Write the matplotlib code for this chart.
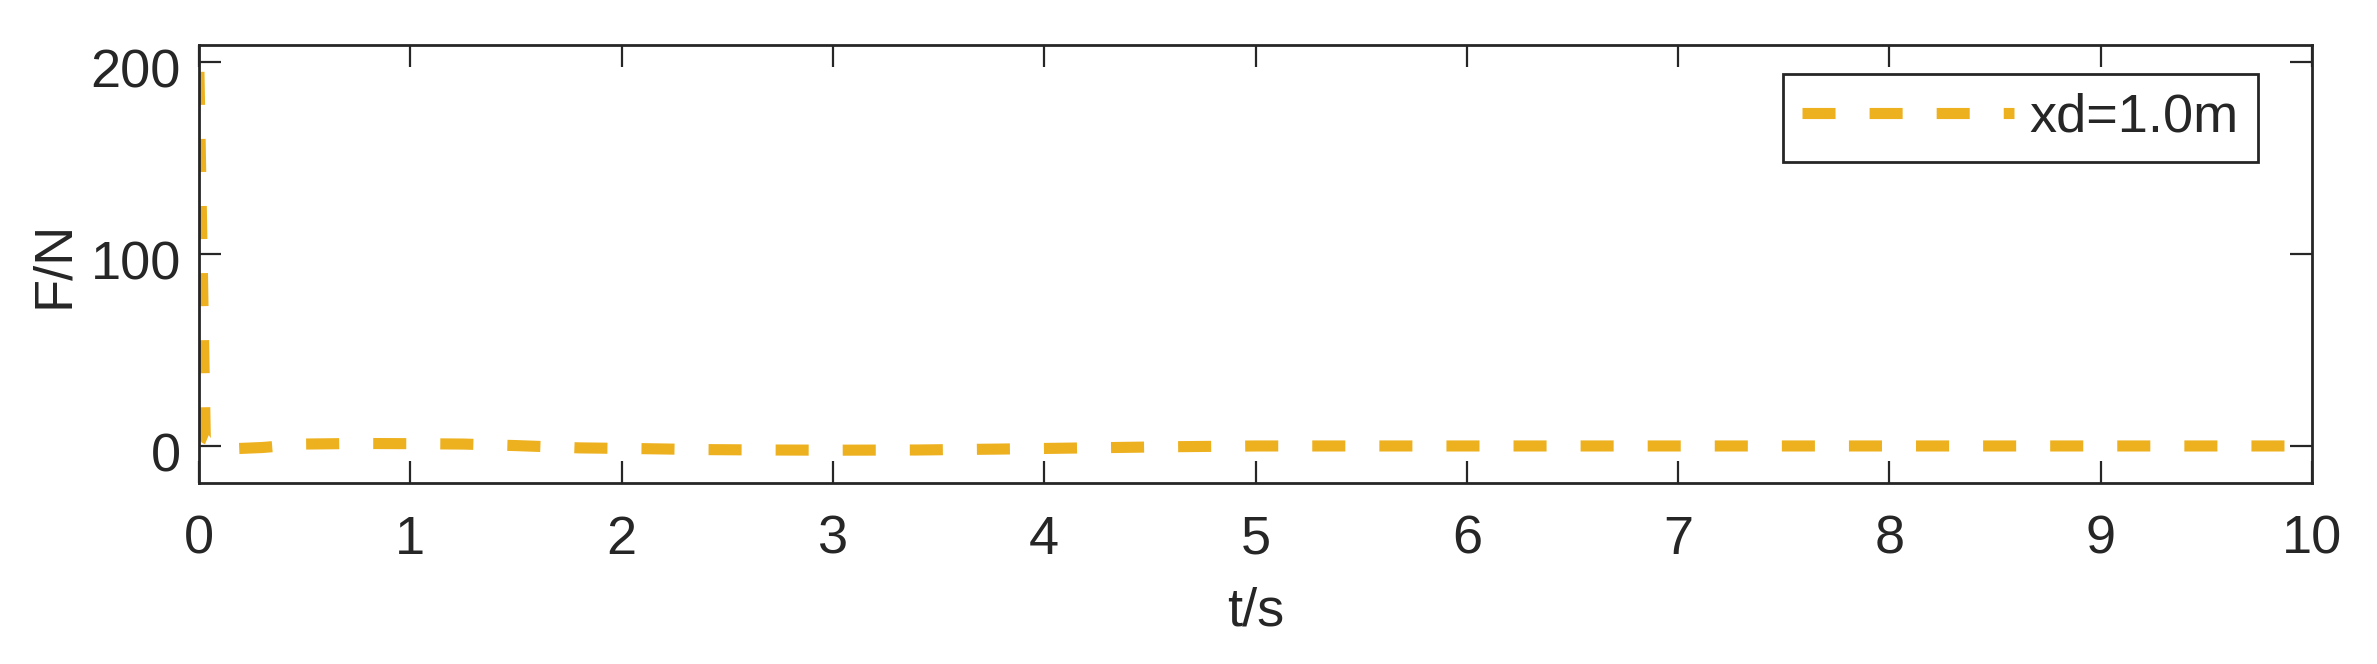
import matplotlib
matplotlib.use('Agg')  # no display
import matplotlib.pyplot as plt
import matplotlib.transforms as mtransforms

# force response
t_s = [0, 0.03, 0.15, 0.3, 0.5, 0.75, 1.0, 1.25, 1.5, 1.8, 2.1, 2.4, 2.7, 3.0, 3.4, 3.8, 4.2, 4.6, 5.0, 6.0, 7.0, 8.0, 9.0, 10.0]
force_n = [195, 4, -1.5, -0.8, 1.0, 1.3, 1.2, 1.0, 0.2, -1.0, -1.4, -1.9, -2.1, -2.2, -2.1, -1.6, -1.0, -0.4, 0, 0, 0, 0, 0, 0]
series_label = 'xd=1.0m'
x_ticks = list(range(0, 11))
y_ticks = [0, 100, 200]

plt.rcParams['font.family'] = ['Liberation Sans', 'DejaVu Sans']
plt.rcParams['font.size'] = 39
text_color = '#262626'

fig = plt.figure(figsize=(23.77, 6.64), dpi=100)
ax = fig.add_axes([0.0837, 0.2726, 0.889, 0.6596])

lw = 8.0
line, = ax.plot(t_s, force_n, color='#EDB120', linewidth=lw, label=series_label,
                solid_capstyle='butt', dash_capstyle='butt')
line.set_dashes([23.8 / lw, 24.5 / lw])

ax.set_xlim(0, 10)
ax.set_ylim(-19.3, 209)
ax.set_xticks(x_ticks)
ax.set_yticks(y_ticks)

for side in ax.spines.values():
    side.set_linewidth(2.0)
    side.set_color(text_color)
ax.tick_params(direction='in', length=16, width=1.6, colors=text_color,
               top=True, right=True, labelsize=39)
ax.tick_params(axis='x', pad=23)
ax.tick_params(axis='y', pad=13)

# MATLAB places y tick labels slightly below the tick
offset = mtransforms.ScaledTranslation(0, -6 / 100, fig.dpi_scale_trans)
for lbl in ax.get_yticklabels():
    lbl.set_transform(lbl.get_transform() + offset)

ax.set_xlabel('t/s', color=text_color)
ax.set_ylabel('F/N', color=text_color)
ax.xaxis.set_label_coords(0.5, -0.237)
ax.yaxis.set_label_coords(-0.057, 0.5)

leg = ax.legend(loc='upper right', bbox_to_anchor=(0.9744, 0.9338), borderaxespad=0,
                fancybox=False, edgecolor=text_color, framealpha=1,
                handlelength=3.9, handletextpad=0.3, borderpad=0.35,
                labelcolor=text_color)
leg.get_frame().set_linewidth(2.0)

fig.savefig('out.png', dpi=100)
plt.close(fig)
